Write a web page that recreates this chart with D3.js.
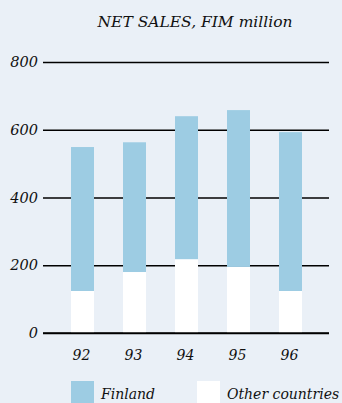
<!DOCTYPE html>
<html>
<head>
<meta charset="utf-8">
<script src="https://cdn.jsdelivr.net/npm/d3@7"></script>
<style>
  html, body { margin: 0; padding: 0; background: #eaf0f7; }
  svg text { font-family: "DejaVu Serif", serif; font-style: italic; fill: #111; }
</style>
</head>
<body>
<svg id="chart" width="342" height="403"></svg>
<script>
// Chart data
const years = ['92', '93', '94', '95', '96'];
const otherCountries = [124, 180, 218, 195, 124];
const finland = [425, 383, 422, 463, 469];
const yTicks = [0, 200, 400, 600, 800];
const legendLabels = ['Finland', 'Other countries'];

const svg = d3.select('#chart');

// Display settings
const colorFinland = '#9dcce3';
const colorOther = '#ffffff';
const plotLeft = 43, plotRight = 329, plotTop = 62, plotBottom = 333;

const x = d3.scaleBand()
  .domain(years)
  .range([45, 328])
  .paddingInner(29 / 52)
  .paddingOuter(0.5);

const y = d3.scaleLinear()
  .domain([0, 800])
  .range([plotBottom, plotTop]);

// Title
svg.append('text')
  .attr('x', 195)
  .attr('y', 27)
  .attr('text-anchor', 'middle')
  .style('font-size', '15.5px')
  .text('NET SALES, FIM million');

// Gridlines + tick labels
const yAxis = d3.axisLeft(y)
  .tickValues(yTicks)
  .tickSize(-(plotRight - plotLeft))
  .tickPadding(5);

const gy = svg.append('g')
  .attr('transform', `translate(${plotLeft},0)`)
  .call(yAxis);
gy.select('.domain').remove();
gy.selectAll('.tick line').attr('stroke', '#000').attr('stroke-width', 1.4);
gy.selectAll('.tick text')
  .style('font-size', '14.5px')
  .style('font-family', '"DejaVu Serif", serif')
  .style('font-style', 'italic')
  .attr('fill', '#111')
  .attr('dy', '0.32em');

// Stacked bars
const stackData = years.map((yr, i) => ({ year: yr, other: otherCountries[i], finland: finland[i] }));
const series = d3.stack().keys(['other', 'finland'])(stackData);
const colors = { other: colorOther, finland: colorFinland };

svg.append('g')
  .selectAll('g')
  .data(series)
  .join('g')
  .attr('fill', d => colors[d.key])
  .selectAll('rect')
  .data(d => d)
  .join('rect')
  .attr('x', d => x(d.data.year))
  .attr('width', x.bandwidth())
  .attr('y', d => y(d[1]))
  .attr('height', d => y(d[0]) - y(d[1]));

// Redraw baseline on top of bars
svg.append('line')
  .attr('x1', plotLeft).attr('x2', plotRight)
  .attr('y1', y(0)).attr('y2', y(0))
  .attr('stroke', '#000').attr('stroke-width', 1.4);

// Year labels
svg.append('g')
  .selectAll('text')
  .data(years)
  .join('text')
  .attr('x', d => x(d) + x.bandwidth() / 2 - 1)
  .attr('y', 360)
  .attr('text-anchor', 'middle')
  .style('font-size', '14px')
  .text(d => d);

// Legend
const legendX = [71, 197];
const legendColors = [colorFinland, colorOther];
const legend = svg.append('g')
  .selectAll('g')
  .data(legendLabels)
  .join('g')
  .attr('transform', (d, i) => `translate(${legendX[i]},381)`);

legend.append('rect')
  .attr('width', 23)
  .attr('height', 23)
  .attr('fill', (d, i) => legendColors[i]);

legend.append('text')
  .attr('x', 30)
  .attr('y', 18)
  .style('font-size', '14px')
  .text(d => d);
</script>
</body>
</html>
